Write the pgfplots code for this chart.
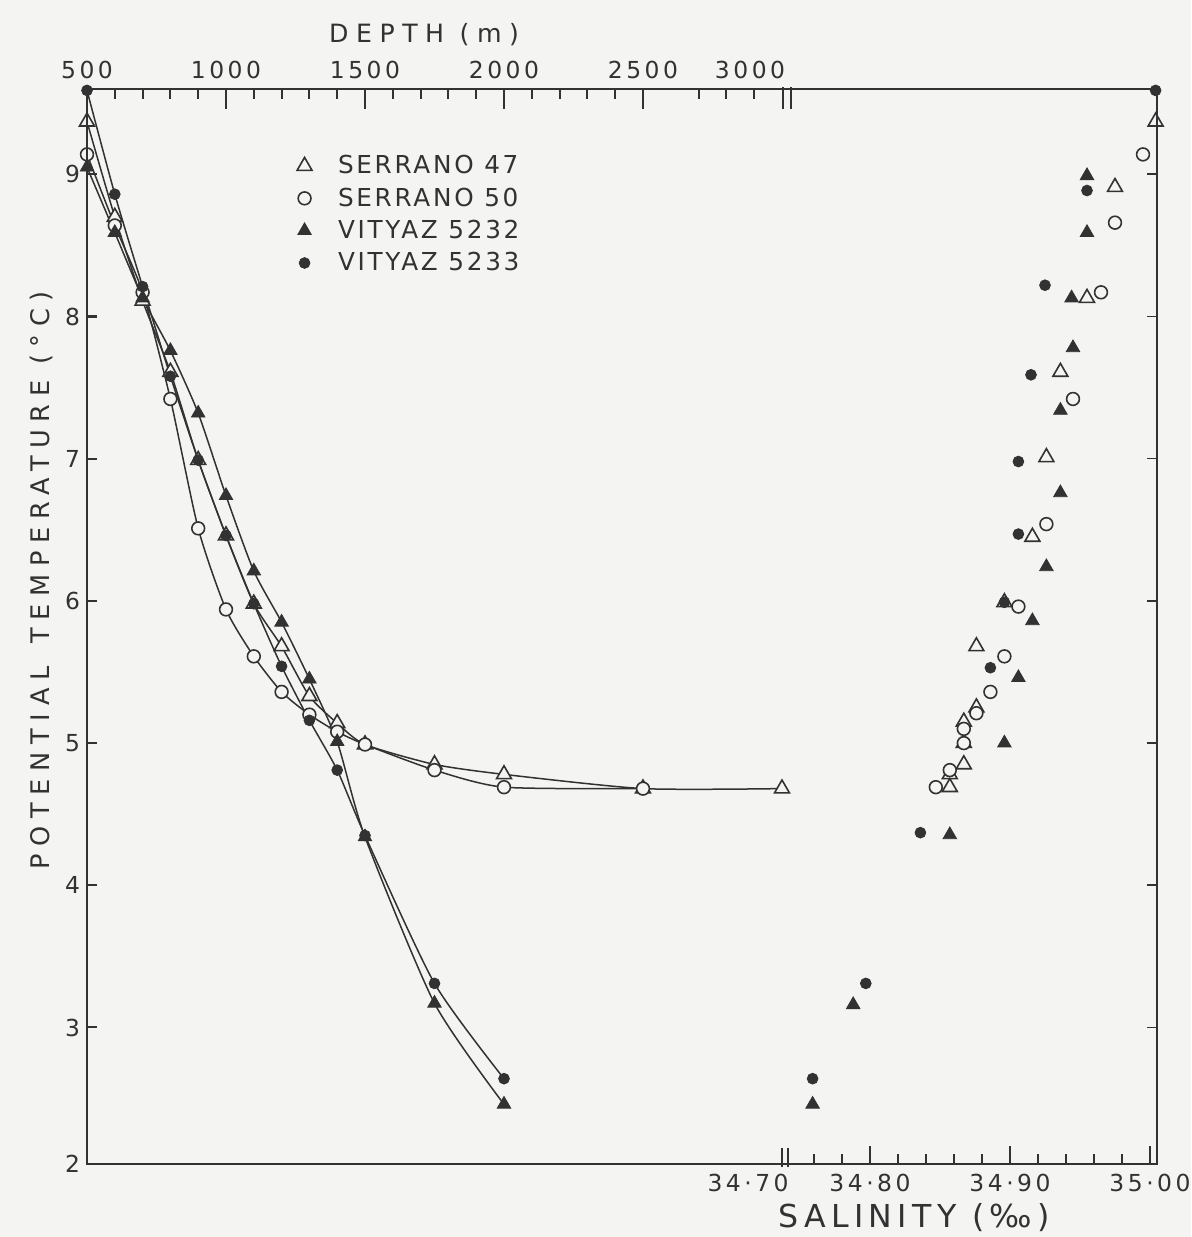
\documentclass[border=0pt]{standalone}
\usepackage{fontspec}
\setmainfont{DejaVu Sans}
\newfontfamily\tickfont[LetterSpace=15]{DejaVu Sans}
\newfontfamily\legfont[LetterSpace=11]{DejaVu Sans}
\newfontfamily\labfont[LetterSpace=30]{DejaVu Sans}
\newfontfamily\salfont[LetterSpace=17]{DejaVu Sans}
\usepackage{pgfplots}
\pgfplotsset{compat=1.18}

\definecolor{ink}{RGB}{50,50,50}
\definecolor{paper}{RGB}{244,244,242}

\tikzset{
  tfont/.style={font=\tickfont\fontsize{11.7}{13}\selectfont, text=ink},
}

\pgfplotsset{
  base/.style={
    at={(43.5pt,36.5pt)}, anchor=south west,
    scale only axis, width=535pt, height=537.5pt,
    ymin=2.04, ymax=9.6, clip=false,
    axis line style={ink, line width=0.9pt},
    tick style={ink, line width=0.8pt},
  },
  prof/.style={ink, line width=0.75pt, smooth, tension=0.4},
  s47/.style={mark=triangle*, mark size=4.3pt, mark options={fill=paper, draw=ink, line width=0.8pt}},
  s50/.style={mark=*, mark size=3.2pt, mark options={fill=paper, draw=ink, line width=0.8pt}},
  v32/.style={mark=triangle*, mark size=3.9pt, mark options={fill=ink, draw=ink, line width=0.4pt}},
  v33/.style={mark=*, mark size=2.7pt, mark options={fill=ink, draw=ink, line width=0.4pt}},
}

\begin{document}
\begin{tikzpicture}
\fill[paper] (0,0) rectangle (595.5pt,618.5pt);
\path[use as bounding box] (0,0) rectangle (595.5pt,618.5pt);

% depth profiles, depth scale on top
\begin{axis}[base,
  xmin=500, xmax=4349,
  xtick pos=right,
  xtick={500,1000,1500,2000,2500},
  xticklabels={500,1000,1500,2000,2500},
  major tick length=0pt,
  xticklabel style={tfont, anchor=base, yshift=5.25pt},
  ytick=\empty,
  xlabel={\labfont\fontsize{12.6}{14}\selectfont DEPTH (m)},
  xlabel style={at={(rel axis cs:0.315,1.0433)}, anchor=base, text=ink},
]
\addplot[prof, s47] coordinates {(500,9.37) (600,8.70) (700,8.11) (800,7.61) (900,6.99) (1000,6.46) (1100,5.98) (1200,5.68) (1300,5.33) (1400,5.14) (1500,4.99) (1750,4.85) (2000,4.78) (2500,4.68) (3000,4.68)};
\addplot[prof, s50] coordinates {(500,9.14) (600,8.64) (700,8.17) (800,7.42) (900,6.51) (1000,5.94) (1100,5.61) (1200,5.36) (1300,5.20) (1400,5.08) (1500,4.99) (1750,4.81) (2000,4.69) (2500,4.68)};
\addplot[prof, v32] coordinates {(500,9.05) (600,8.59) (700,8.13) (800,7.76) (900,7.32) (1000,6.74) (1100,6.21) (1200,5.85) (1300,5.45) (1400,5.01) (1500,4.34) (1750,3.17) (2000,2.46)};
\addplot[prof, v33] coordinates {(500,9.59) (600,8.86) (700,8.21) (800,7.58) (900,6.99) (1000,6.46) (1100,5.98) (1200,5.54) (1300,5.16) (1400,4.81) (1500,4.35) (1750,3.31) (2000,2.64)};
\node[tfont, anchor=base, yshift=5.25pt] at (axis cs:2885,9.6) {3000};
\end{axis}

% T-S diagram, salinity scale at the bottom
\begin{axis}[base,
  xmin=34.2407, xmax=35.005,
  xtick pos=left,
  xtick={34.8,34.9,35.0}, xticklabels={34·80,34·90,35·00},
  major tick length=0pt,
  xticklabel style={tfont, anchor=base, yshift=-13.85pt},
  ytick=\empty,
  xlabel={\salfont\fontsize{15.8}{18}\selectfont SALINITY (‰)},
  xlabel style={at={(rel axis cs:0.773,-0.0595)}, anchor=base, text=ink},
  legend style={at={(rel axis cs:0.196,0.9405)}, anchor=north west,
    draw=none, fill=none, inner sep=0pt, row sep=3.5pt,
    font=\legfont\fontsize{12.35}{14}\selectfont, text=ink,
    nodes={inner sep=1pt},
    /tikz/every odd column/.append style={column sep=12pt}},
  legend cell align=left,
]
\addplot[only marks, s47] coordinates {(35.004,9.37) (34.975,8.91) (34.955,8.13) (34.936,7.61) (34.926,7.01) (34.916,6.45) (34.896,5.99) (34.876,5.68) (34.876,5.25) (34.867,5.15) (34.867,5.00) (34.867,4.85) (34.857,4.78) (34.857,4.69)};
\addplot[only marks, s50] coordinates {(34.995,9.14) (34.975,8.66) (34.965,8.17) (34.945,7.42) (34.926,6.54) (34.906,5.96) (34.896,5.61) (34.886,5.36) (34.876,5.21) (34.867,5.10) (34.867,5.00) (34.857,4.81) (34.847,4.69)};
\addplot[only marks, v32] coordinates {(34.955,8.99) (34.955,8.59) (34.944,8.13) (34.945,7.78) (34.936,7.34) (34.936,6.76) (34.926,6.24) (34.916,5.86) (34.906,5.46) (34.896,5.00) (34.857,4.355) (34.788,3.16) (34.759,2.46)};
\addplot[only marks, v33] coordinates {(35.004,9.59) (34.955,8.886) (34.925,8.22) (34.915,7.59) (34.906,6.98) (34.906,6.47) (34.896,5.99) (34.886,5.53) (34.836,4.37) (34.797,3.31) (34.759,2.64)};
\legend{SERRANO 47, SERRANO 50, VITYAZ 5232, VITYAZ 5233}
\node[tfont, anchor=base, yshift=-13.85pt] at (axis cs:34.7129,2.04) {34·70};
\end{axis}

% temperature scale
\begin{axis}[base,
  xmin=0, xmax=1, hide x axis,
  ytick={2.04,3,4,5,6,7,8,9}, yticklabels={2,3,4,5,6,7,8,9},
  yticklabel style={tfont},
  ytick pos=both,
  major tick length=5pt,
  ylabel={\labfont\fontsize{12.8}{14}\selectfont POTENTIAL\hspace{0.9em}TEMPERATURE (°C)},
  ylabel style={at={(rel axis cs:-0.043,0.543)}, anchor=center, text=ink},
]
\end{axis}

% tick marks on the depth, salinity and left temperature scales
\foreach \xd in {1000,1500,2000,2500}
  \draw[ink, line width=1pt] ({43.5pt+(\xd-500)*0.139pt},573.75pt) -- ++(0pt,-10pt);
\foreach \xd in {600,700,800,900,1100,1200,1300,1400,1600,1700,1800,1900,2100,2200,2300,2400,2700,2800,2900}
  \draw[ink, line width=1pt] ({43.5pt+(\xd-500)*0.139pt},573.75pt) -- ++(0pt,-5pt);
\foreach \xs in {0,0.1,0.2}
  \draw[ink, line width=1pt] ({435pt+\xs*700pt},36.5pt) -- ++(0pt,9pt);
\foreach \xs in {-0.04,-0.02,0.02,0.04,0.06,0.08,0.12,0.14,0.16,0.18}
  \draw[ink, line width=1pt] ({435pt+\xs*700pt},36.5pt) -- ++(0pt,5pt);
\foreach \yt in {3,4,5,6,7,8,9}
  \draw[ink, line width=1pt] (43.5pt,{36.5pt+(\yt-2.04)*71.098pt}) -- ++(5pt,0pt);

% axis breaks
\draw[ink, line width=0.8pt] (391.5pt,575pt) -- (391.5pt,564pt);
\draw[ink, line width=0.8pt] (395.5pt,575pt) -- (395.5pt,564pt);
\draw[ink, line width=0.8pt] (391pt,44.5pt) -- (391pt,35pt);
\draw[ink, line width=0.8pt] (394pt,44.5pt) -- (394pt,35pt);
\end{tikzpicture}
\end{document}
